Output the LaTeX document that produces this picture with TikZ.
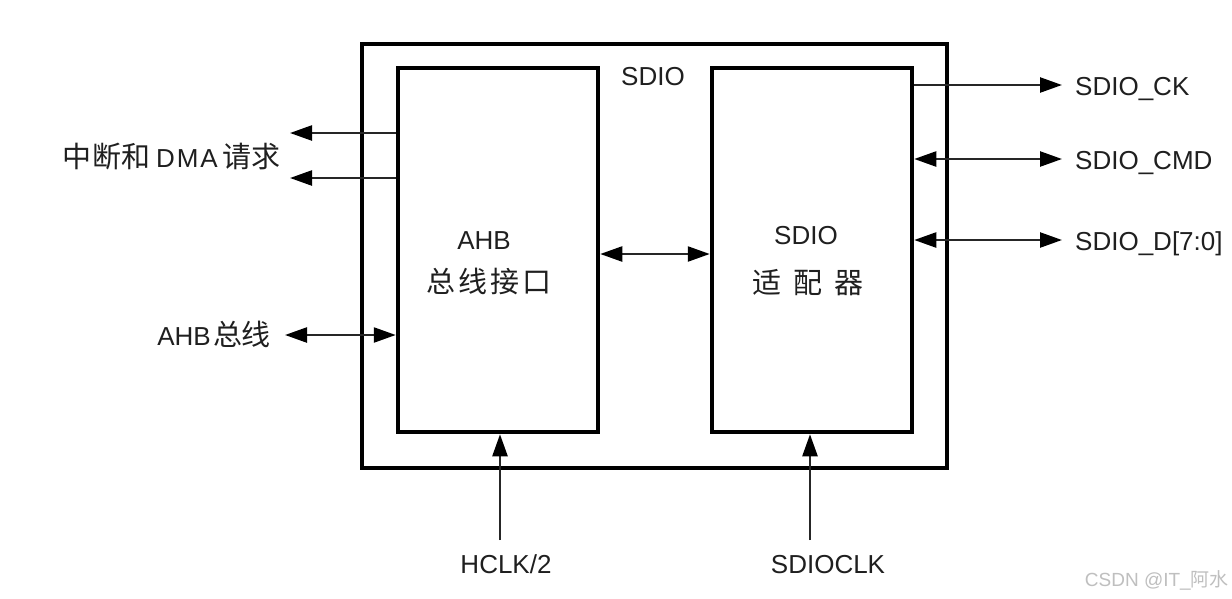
\documentclass[tikz,border=0pt]{standalone}
\usepackage{fontspec}
\setmainfont{Liberation Sans}
\newfontfamily\cjk{Noto Sans CJK SC}
\newcommand\cjkbig{\cjk\fontsize{29}{32}\selectfont}
\usetikzlibrary{arrows.meta}
\begin{document}
\begin{tikzpicture}[x=1pt,y=-1pt,
  box/.style={draw=black,line width=4.5pt,inner sep=0pt},
  lbl/.style={font=\fontsize{26}{30}\selectfont,text=black!88,inner sep=0pt,text height=19pt,text depth=0pt},
  wire/.style={draw=black!85,line width=2.4pt},
  tip/.style={-{Triangle[length=22pt,width=15pt,color=black]}},
  dtip/.style={{Triangle[length=22pt,width=15pt,color=black]}-{Triangle[length=22pt,width=15pt,color=black]}}
]
\path[use as bounding box,fill=white] (0,0) rectangle (1232,598);

% boxes
\node[box,minimum width=585pt,minimum height=424pt] (sdio) at (654.5,256) {};
\node[box,minimum width=200pt,minimum height=364pt] (ahb) at (498,250) {};
\node[box,minimum width=200pt,minimum height=364pt] (ad) at (812,250) {};

% box texts
\node[lbl] (sdiot) at (653,76) {SDIO};
\node[lbl] (ahbt1) at (484,240) {AHB};
\node[lbl] (ahbt2) at (489,283) {\cjkbig 总\kern3pt 线\kern3pt 接\kern3pt 口};
\node[lbl] (adt1) at (806,235) {SDIO};
\node[lbl] (adt2) at (808,284) {\cjkbig 适\kern12pt 配\kern12pt 器};

% left side
\node[lbl,anchor=east] (irq) at (281,158) {{\cjkbig 中\kern1pt 断\kern1pt 和}\kern5pt D\kern2pt M\kern2pt A\kern5pt{\cjkbig 请\kern0pt 求}};
\coordinate (irqa) at (290,133);
\coordinate (irqb) at (290,178);
\draw[wire,tip] (ahb.west |- irqa) -- (irqa);
\draw[wire,tip] (ahb.west |- irqb) -- (irqb);

\node[lbl,anchor=east] (bus) at (271,336) {AHB\kern3pt{\cjkbig 总\kern-1pt 线}};
\coordinate (busend) at (285,335);
\draw[wire,dtip] (busend) -- (ahb.west |- busend);

% middle
\coordinate (mid) at (655,254);
\draw[wire,dtip] (ahb.east |- mid) -- (ad.west |- mid);

% right side
\node[lbl,anchor=west] (ck) at (1075,86) {SDIO\_CK};
\node[lbl,anchor=west] (cmd) at (1075,160) {SDIO\_CMD};
\node[lbl,anchor=west] (dat) at (1075,241) {SDIO\_D[7:0]};
\coordinate (cke) at (1062,85);
\coordinate (cmde) at (1062,159);
\coordinate (date) at (1062,240);
\draw[wire,tip] (ad.east |- cke) -- (cke);
\draw[wire,dtip] (ad.east |- cmde) -- (cmde);
\draw[wire,dtip] (ad.east |- date) -- (date);

% bottom
\node[lbl] (hclk) at (506,564) {HCLK/2};
\node[lbl] (sclk) at (828,564) {SDIOCLK};
\coordinate (hs) at (500,540);
\coordinate (ss) at (810,540);
\draw[wire,tip] (hs) -- (ahb.south -| hs);
\draw[wire,tip] (ss) -- (ad.south -| ss);

% watermark
\node[font=\fontsize{19}{22}\selectfont,text=black!25,anchor=east,inner sep=0pt,text height=14pt,text depth=0pt] (wm) at (1229,579) {CSDN @IT\_{\cjk 阿水}};
\end{tikzpicture}
\end{document}
